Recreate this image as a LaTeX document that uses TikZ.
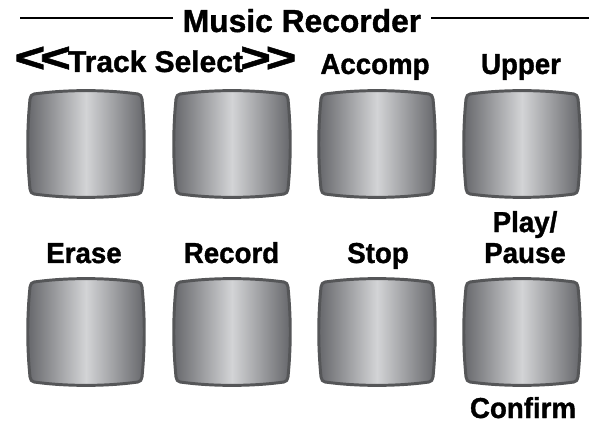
\documentclass[tikz,border=0pt]{standalone}
\usepackage{fontspec}
\setmainfont{Liberation Sans}[BoldFeatures={FakeBold=1.2}]
\newfontfamily\nhanfont{Liberation Sans}[FakeStretch=0.96,BoldFeatures={FakeBold=1.2}]
\definecolor{vien}{HTML}{555658}
\definecolor{toi}{HTML}{65666A}
\definecolor{sang}{HTML}{D3D4D6}
\begin{document}
\begin{tikzpicture}[x=0.025cm,y=-0.025cm]
		\tikzset{
			every node/.style={inner sep=0pt,anchor=base,font=\nhanfont\bfseries\fontsize{20.5}{22}\selectfont},
			%
			tieude/.style={font=\bfseries\fontsize{22.6}{25}\selectfont,inner xsep=7pt},
			% nut bam
			nutbam/.pic={\draw[line width=2.1pt,draw=vien,left color=toi,right color=toi,middle color=sang]
				(-52,-50) .. controls (-20,-54.5) and (20,-54.5) .. (52,-50)
				.. controls (54.5,-49.5) and (55.5,-48) .. (56,-45)
				.. controls (59,-15) and (59,15) .. (56,45)
				.. controls (55.5,48) and (54.5,49.5) .. (52,50)
				.. controls (20,54.5) and (-20,54.5) .. (-52,50)
				.. controls (-54.5,49.5) and (-55.5,48) .. (-56,45)
				.. controls (-59,15) and (-59,-15) .. (-56,-45)
				.. controls (-55.5,-48) and (-54.5,-49.5) .. (-52,-50) -- cycle;},
		}
		\useasboundingbox (0,0) rectangle (589,425);
		%
		\draw
		(86,144)pic[local bounding box =nut1]{nutbam}
		(232,144)pic[local bounding box =nut2]{nutbam}
		(377,144)pic[local bounding box =nut3]{nutbam}
		(522,144)pic[local bounding box =nut4]{nutbam}
		(86,332)pic[local bounding box =nut5]{nutbam}
		(232,332)pic[local bounding box =nut6]{nutbam}
		(377,332)pic[local bounding box =nut7]{nutbam}
		(522,332)pic[local bounding box =nut8]{nutbam}
		;
		%
		\node[tieude] (tieude) at (302,32) {Music Recorder};
		\coordinate (tl) at (20,18);
		\coordinate (tr) at (589,18);
		\draw[line width=2.1pt] (tl)--(tl-|tieude.west) (tieude.east|-tr)--(tr);
		%
		\node[font=\bfseries\fontsize{21.3}{22}\selectfont] (chon) at (155.5,72) {\scalebox{1.25}[1]{\fontsize{30}{30}\selectfont{<}\kern-3pt{<}}\kern-2pt Track Select\kern-2pt\scalebox{1.25}[1]{\fontsize{30}{30}\selectfont{>}\kern-3pt{>}}};
		\node (acc) at (375,74) {Accomp};
		\node (upper) at (521,74) {Upper};
		\node (erase) at (84,263) {Erase};
		\node (record) at (231.5,263) {Record};
		\node (stop) at (378,263) {Stop};
		\node[align=center] (play) at (525,263) {Play/\\Pause};
		\node (confirm) at (523,418) {Confirm};
		%	\draw(nut8)--(confirm);
\end{tikzpicture}
\end{document}
